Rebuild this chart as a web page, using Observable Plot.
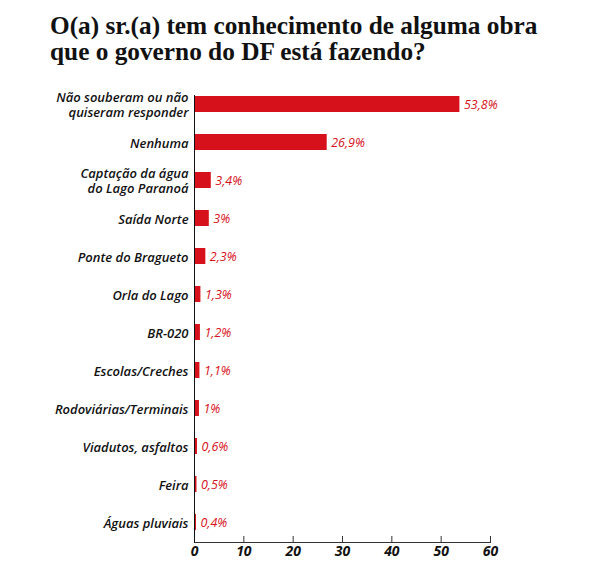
<!DOCTYPE html>
<html><head><meta charset="utf-8">
<script src="https://cdn.jsdelivr.net/npm/d3@7"></script>
<script src="https://cdn.jsdelivr.net/npm/@observablehq/plot@0.6"></script>
<style>
body{margin:0;background:#fff;}
#title{position:absolute;left:50px;top:12px;font-family:"Liberation Serif",serif;font-weight:bold;font-size:25.3px;line-height:26px;color:#111;white-space:nowrap;}
#chart{position:absolute;left:0;top:80px;}
#chart svg text{font-style:italic !important;}
</style></head><body>
<div id="title">O(a) sr.(a) tem conhecimento de alguma obra<br>que o governo do DF está fazendo?</div>
<div id="chart"></div>
<script>
const categories = [
  "Não souberam ou não\nquiseram responder",
  "Nenhuma",
  "Captação da água\ndo Lago Paranoá",
  "Saída Norte",
  "Ponte do Bragueto",
  "Orla do Lago",
  "BR-020",
  "Escolas/Creches",
  "Rodoviárias/Terminais",
  "Viadutos, asfaltos",
  "Feira",
  "Águas pluviais"
];
const values = [53.8, 26.9, 3.4, 3, 2.3, 1.3, 1.2, 1.1, 1, 0.6, 0.5, 0.4];
const xTicks = [0, 10, 20, 30, 40, 50, 60];

const data = categories.map((c, i) => ({category: c, value: values[i]}));
const red = "#d7111b";
const fmt = v => String(v).replace(".", ",") + "%";

const chart = Plot.plot({
  width: 600,
  height: 500,
  marginTop: 4,
  marginBottom: 38,
  marginLeft: 194,
  marginRight: 110,
  style: {fontFamily: "'Open Sans', sans-serif", fontSize: "13px", fontStyle: "italic", fontWeight: 600, color: "#111", background: "#fff"},
  x: {domain: [0, 60], ticks: xTicks},
  y: {domain: categories, paddingInner: 0.58, paddingOuter: 0.28},
  marks: [
    Plot.barX(data, {x: "value", y: "category", fill: red}),
    Plot.text(data, {x: "value", y: "category", text: d => fmt(d.value), textAnchor: "start", dx: 4, fill: red, fontSize: 12.5, fontWeight: 500, fontStyle: "italic"}),
    Plot.axisY({tickSize: 0, tickPadding: 6, label: null, fontSize: 13, fontStyle: "italic", fontWeight: 600, lineHeight: 1.2, fill: "#111"}),
    Plot.axisX({ticks: xTicks, tickSize: -6, text: null, label: null, stroke: "#333"}),
    Plot.axisX({ticks: xTicks, tickSize: 0, tickPadding: 4, label: null, fontSize: 14, fontStyle: "italic", fontWeight: 700, fill: "#111"}),
    Plot.frame({anchor: "bottom", stroke: "#333"}),
    Plot.frame({anchor: "left", stroke: "#111", insetTop: 11})
  ]
});
document.getElementById("chart").appendChild(chart);
</script>
</body></html>
